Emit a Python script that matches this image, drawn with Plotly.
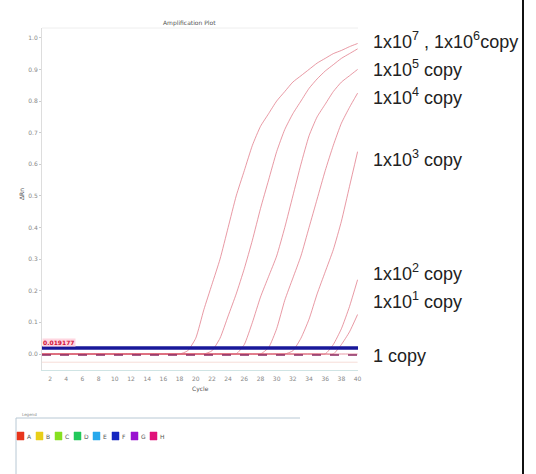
import plotly.graph_objects as go

# Amplification plot: delta Rn per cycle for a 10-fold dilution series
cycles = list(range(1, 41))

copy_1e7 = [0.0] * 18 + [0.01, 0.05, 0.14, 0.22, 0.30, 0.40, 0.50, 0.58, 0.66, 0.72, 0.76, 0.80,
                         0.83, 0.86, 0.88, 0.90, 0.92, 0.935, 0.95, 0.96, 0.972, 0.982]
copy_1e6 = [0.0] * 21 + [0.01, 0.05, 0.12, 0.19, 0.27, 0.36, 0.46, 0.55, 0.64, 0.71, 0.76, 0.80,
                         0.84, 0.87, 0.895, 0.915, 0.935, 0.95, 0.965]
copy_1e5 = [0.0] * 25 + [0.03, 0.10, 0.18, 0.245, 0.31, 0.40, 0.50, 0.60, 0.69, 0.75, 0.79, 0.83,
                         0.86, 0.88, 0.90]
copy_1e4 = [0.0] * 28 + [0.02, 0.08, 0.17, 0.24, 0.31, 0.40, 0.49, 0.58, 0.66, 0.73, 0.78, 0.825]
copy_1e3 = [0.0] * 31 + [0.01, 0.05, 0.11, 0.19, 0.26, 0.33, 0.42, 0.53, 0.64]
copy_1e2 = [0.0] * 36 + [0.03, 0.08, 0.15, 0.235]
copy_1e1 = [0.0] * 37 + [0.03, 0.07, 0.125]
copy_1 = [0.0] * 40

series = [copy_1e7, copy_1e6, copy_1e5, copy_1e4, copy_1e3, copy_1e2, copy_1e1, copy_1]

threshold = 0.019177
threshold_text = "0.019177"

well_names = ["A", "B", "C", "D", "E", "F", "G", "H"]
well_colors = ["#e8361c", "#e8cf1a", "#86e020", "#22c85a", "#27a8ec", "#1426c0", "#9a12d0", "#e0127a"]

label_texts = [
    "1x10<sup>7</sup> , 1x10<sup>6</sup>copy",
    "1x10<sup>5</sup> copy",
    "1x10<sup>4</sup> copy",
    "1x10<sup>3</sup> copy",
    "1x10<sup>2</sup> copy",
    "1x10<sup>1</sup> copy",
    "1 copy",
]

W, H = 536, 474
L, R, T, B = 42, 178, 28, 104
PW, PH = W - L - R, H - T - B


def px(x):
    return (x - L) / PW


def py(y):
    return (H - B - y) / PH


fig = go.Figure()

for vals in series:
    fig.add_trace(go.Scatter(x=cycles, y=vals, mode="lines",
                             line=dict(color="rgba(222,110,125,0.7)", width=1,
                                       shape="spline", smoothing=0.5),
                             hoverinfo="skip", showlegend=False))

# baseline of the negative wells
fig.add_trace(go.Scatter(x=[cycles[0], cycles[-1]], y=[-0.003, -0.003], mode="lines",
                         line=dict(color="#8a2a62", width=1.5, dash="dash"),
                         showlegend=False, hoverinfo="skip"))
fig.add_trace(go.Scatter(x=[cycles[0], cycles[-1]], y=[-0.026, -0.026], mode="lines",
                         line=dict(color="rgba(240,200,190,0.6)", width=1),
                         showlegend=False, hoverinfo="skip"))
# threshold
fig.add_trace(go.Scatter(x=[cycles[0], cycles[-1] + 0.05], y=[threshold, threshold], mode="lines",
                         line=dict(color="#18189a", width=3.5),
                         showlegend=False, hoverinfo="skip"))

small = dict(family="DejaVu Sans", color="#555")

annotations = [
    dict(x=cycles[0], y=threshold, xref="x", yref="y", xanchor="left", yanchor="bottom",
         text="<b>" + threshold_text + "</b>", showarrow=False,
         font=dict(size=6, color="#d0103a", family="DejaVu Sans"), bgcolor="#ffd6e0",
         borderpad=0, yshift=1),
    dict(x=px(189), y=py(17), xref="paper", yref="paper", text="Amplification Plot",
         showarrow=False, font=dict(size=6, **small)),
    dict(x=px(21), y=py(194), xref="paper", yref="paper", text="ΔRn", textangle=-90,
         xanchor="center", yanchor="middle",
         showarrow=False, font=dict(size=6, **small)),
    dict(x=px(200), y=py(395), xref="paper", yref="paper", text="Cycle",
         showarrow=False, font=dict(size=6, **small)),
    dict(x=px(20), y=py(419), xref="paper", yref="paper", text="Legend", xanchor="left",
         showarrow=False, font=dict(size=4, family="DejaVu Sans", color="#888")),
]

label_y = [41, 68, 96, 158, 272, 300, 356]
for txt, yy in zip(label_texts, label_y):
    annotations.append(dict(x=px(371), y=py(yy), xref="paper", yref="paper", text=txt,
                            xanchor="left", yanchor="middle", showarrow=False,
                            font=dict(size=18, color="#222",
                                      family="Liberation Sans, Arial, sans-serif")))

shapes = [
    # plot frame top edge
    dict(type="line", xref="paper", yref="paper", x0=0, x1=1, y0=1, y1=1,
         line=dict(color="#eeeeee", width=1)),
    # right page rule
    dict(type="line", xref="paper", yref="paper", x0=px(523), x1=px(523), y0=py(0), y1=py(474),
         line=dict(color="#111", width=2)),
    # legend panel
    dict(type="line", xref="paper", yref="paper", x0=px(16), x1=px(300), y0=py(418), y1=py(418),
         line=dict(color="#b8c8d4", width=1)),
    dict(type="line", xref="paper", yref="paper", x0=px(16), x1=px(16), y0=py(418), y1=py(474),
         line=dict(color="#b8c8d4", width=1)),
]

for i, (name, col) in enumerate(zip(well_names, well_colors)):
    x0 = 17 + i * 19
    shapes.append(dict(type="rect", xref="paper", yref="paper", x0=px(x0), x1=px(x0 + 7),
                       y0=py(440), y1=py(432), fillcolor=col, line=dict(color=col, width=0.5)))
    annotations.append(dict(x=px(x0 + 8), y=py(436), xref="paper", yref="paper", text=name,
                            xanchor="left", yanchor="middle", showarrow=False,
                            font=dict(size=6, **small)))

fig.update_layout(
    width=W, height=H, autosize=False,
    margin=dict(l=L, r=R, t=T, b=B),
    paper_bgcolor="white", plot_bgcolor="white",
    showlegend=False,
    annotations=annotations, shapes=shapes,
    xaxis=dict(range=[1, 40.05], tickvals=list(range(2, 41, 2)), showgrid=False, zeroline=False,
               showline=True, linecolor="#cfe4e4", linewidth=1, ticks="outside", ticklen=3,
               tickcolor="rgba(255,255,255,0)",
               tickfont=dict(size=6, color="#888", family="DejaVu Sans")),
    yaxis=dict(range=[-0.0506, 1.031], tickvals=[i / 10 for i in range(11)], tickformat=".1f",
               showgrid=False, zeroline=False, showline=True, linecolor="#dddddd", linewidth=1,
               ticks="outside", ticklen=2, tickcolor="#cccccc",
               tickfont=dict(size=6, color="#888", family="DejaVu Sans")),
)

fig.write_html("out.html")
